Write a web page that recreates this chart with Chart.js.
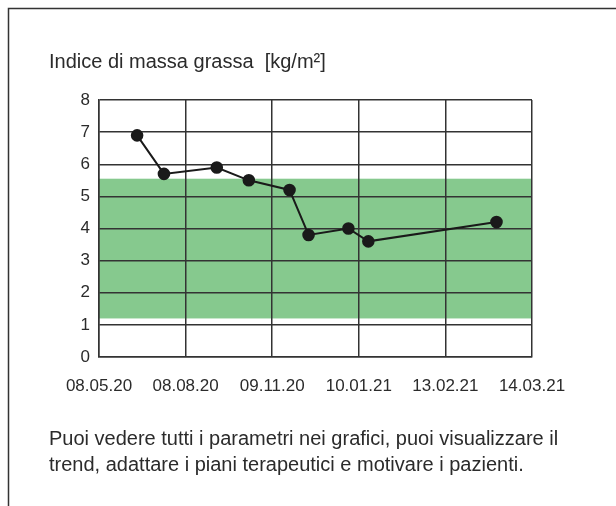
<!DOCTYPE html>
<html>
<head>
<meta charset="utf-8">
<script src="https://cdn.jsdelivr.net/npm/chart.js@4.4.1/dist/chart.umd.min.js"></script>
<style>
  html, body { margin: 0; padding: 0; background: #ffffff; }
  body { width: 616px; height: 506px; position: relative; overflow: hidden; font-family: "Liberation Sans", Arial, sans-serif; color: #2b2b2b; }
  #wrap { position: absolute; left: 0; top: 0; width: 616px; height: 506px; }
  #title { position: absolute; left: 49px; top: 49px; font-size: 20px; line-height: 24px; white-space: nowrap; }
  #footer { position: absolute; left: 49px; top: 425px; font-size: 20px; line-height: 26px; white-space: nowrap; }
</style>
</head>
<body>
<div id="wrap"><canvas id="c" width="616" height="506"></canvas></div>
<div id="title">Indice di massa grassa&nbsp; [kg/m²]</div>
<div id="footer">Puoi vedere tutti i parametri nei grafici, puoi visualizzare il<br>trend, adattare i piani terapeutici e motivare i pazienti.</div>
<script>
// ---- data ----
const xTickLabels = ['08.05.20', '08.08.20', '09.11.20', '10.01.21', '13.02.21', '14.03.21'];
const yTickValues = [0, 1, 2, 3, 4, 5, 6, 7, 8];
const pointPositions = [0.44, 0.75, 1.36, 1.73, 2.2, 2.42, 2.88, 3.11, 4.59];
const fatIndexValues = [6.9, 5.7, 5.9, 5.5, 5.2, 3.8, 4.0, 3.6, 4.2];
const normalRange = [1.2, 5.55];

const gridColor = '#333333';
const textColor = '#2b2b2b';

const bandPlugin = {
  id: 'band',
  beforeDraw(chart) {
    const { ctx, chartArea, scales } = chart;
    const yTop = scales.y.getPixelForValue(normalRange[1]);
    const yBot = scales.y.getPixelForValue(normalRange[0]);
    ctx.save();
    ctx.fillStyle = '#86c98e';
    ctx.fillRect(chartArea.left, yTop, chartArea.right - chartArea.left, yBot - yTop);
    ctx.restore();
  }
};

const framePlugin = {
  id: 'frame',
  afterDraw(chart) {
    const { ctx, width, height } = chart;
    ctx.save();
    ctx.strokeStyle = '#333333';
    ctx.lineWidth = 1.5;
    ctx.beginPath();
    ctx.moveTo(8.5, height);
    ctx.lineTo(8.5, 8.5);
    ctx.lineTo(width, 8.5);
    ctx.stroke();
    ctx.restore();
  }
};

new Chart(document.getElementById('c'), {
  type: 'scatter',
  data: {
    datasets: [{
      data: pointPositions.map((x, i) => ({ x: x, y: fatIndexValues[i] })),
      showLine: true,
      borderColor: '#1a1a1a',
      borderWidth: 2,
      backgroundColor: '#1a1a1a',
      pointBackgroundColor: '#1a1a1a',
      pointBorderColor: '#1a1a1a',
      pointRadius: 5.3,
      pointHoverRadius: 5.3,
      tension: 0
    }]
  },
  options: {
    responsive: false,
    animation: false,
    events: [],
    layout: { padding: { left: 0, top: 100, right: 84, bottom: 109 } },
    plugins: { legend: { display: false }, tooltip: { enabled: false }, title: { display: false } },
    scales: {
      x: {
        type: 'linear',
        min: 0,
        max: xTickLabels.length - 1,
        afterBuildTicks(scale) {
          scale.ticks = xTickLabels.map((_, i) => ({ value: i }));
        },
        afterFit(scale) {
          scale.height = 40;
          scale.paddingLeft = 0;
          scale.paddingRight = 0;
        },
        ticks: {
          callback: (v) => xTickLabels[v],
          color: textColor,
          font: { family: '"Liberation Sans", Arial, sans-serif', size: 17 },
          padding: 19,
          maxRotation: 0,
          autoSkip: false
        },
        grid: { color: gridColor, lineWidth: 1.5, drawTicks: false },
        border: { color: gridColor, width: 1.5 }
      },
      y: {
        min: 0,
        max: 8,
        afterBuildTicks(scale) {
          scale.ticks = yTickValues.map(v => ({ value: v }));
        },
        afterFit(scale) {
          scale.width = 99;
          scale.paddingTop = 0;
          scale.paddingBottom = 0;
        },
        ticks: {
          color: textColor,
          font: { family: '"Liberation Sans", Arial, sans-serif', size: 17 },
          padding: 9
        },
        grid: { color: gridColor, lineWidth: 1.5, drawTicks: false },
        border: { color: gridColor, width: 1.5 }
      }
    }
  },
  plugins: [bandPlugin, framePlugin]
});
</script>
</body>
</html>
